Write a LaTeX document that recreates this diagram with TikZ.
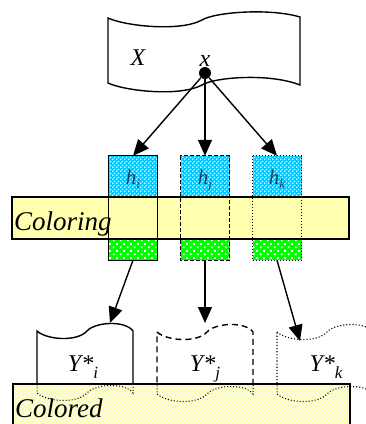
\documentclass[tikz,border=0pt]{standalone}
\usepackage{fontspec}
\setmainfont{Liberation Serif}
\usetikzlibrary{patterns,arrows.meta}
\definecolor{hblue}{RGB}{0,200,255}
\definecolor{bandyel}{RGB}{255,255,160}
\definecolor{hgreen}{RGB}{0,255,0}
\definecolor{hlab}{RGB}{40,60,80}
\pgfdeclarepatternformonly{wchk}{\pgfqpoint{0pt}{0pt}}{\pgfqpoint{4pt}{4pt}}{\pgfqpoint{4pt}{4pt}}{%
  \pgfpathrectangle{\pgfqpoint{0.3pt}{0.3pt}}{\pgfqpoint{1.4pt}{1.4pt}}%
  \pgfpathrectangle{\pgfqpoint{2.3pt}{2.3pt}}{\pgfqpoint{1.4pt}{1.4pt}}%
  \pgfusepath{fill}}
\pgfdeclarepatternformonly{gdots}{\pgfqpoint{0pt}{0pt}}{\pgfqpoint{7pt}{7pt}}{\pgfqpoint{7pt}{7pt}}{%
  \pgfpathrectangle{\pgfqpoint{1pt}{1pt}}{\pgfqpoint{2pt}{2pt}}%
  \pgfpathrectangle{\pgfqpoint{4.5pt}{4.5pt}}{\pgfqpoint{2pt}{2pt}}%
  \pgfusepath{fill}}
\begin{document}
\begin{tikzpicture}[x=1pt,y=-1pt,
  docline/.style={line width=1.4pt},
  arr/.style={line width=1.4pt,-{Triangle[length=16pt,width=14pt]}},
  hbox/.style={inner sep=0pt,minimum width=49pt,minimum height=41pt,fill=hblue,postaction={pattern=wchk,pattern color=white}},
  gbox/.style={inner sep=0pt,minimum width=49pt,minimum height=21pt,fill=hgreen,postaction={pattern=gdots,pattern color=white}},
  band/.style={inner sep=0pt,fill=bandyel,postaction={pattern=wchk,pattern color=white}},
  bandedge/.style={line width=2pt},
  bigtxt/.style={font=\fontsize{27}{30}\selectfont\itshape,inner sep=0pt},
  lab/.style={font=\fontsize{24}{26}\selectfont\itshape,inner sep=0pt},
  hlabel/.style={font=\fontsize{21}{22}\selectfont\itshape,text=hlab,inner sep=0pt},
  ydoc/.pic={\draw[pic actions] (0,0) .. controls (10,9) and (40,11) .. (50,0)
      .. controls (58,-9) and (88,-11) .. (96,0) -- (96,62)
      .. controls (88,51) and (58,53) .. (50,62)
      .. controls (40,73) and (10,71) .. (0,62) -- cycle;}
]
\useasboundingbox (0,0) rectangle (366,424);
\clip (0,0) rectangle (366,424);

% X document
\draw[docline] (108,18) .. controls (125,26) and (180,32) .. (202,20)
  .. controls (215,12) and (270,8) .. (300,17) -- (300,85)
  .. controls (270,73) and (215,77) .. (202,85)
  .. controls (180,97) and (125,91) .. (108,83) -- cycle;
\node[lab,anchor=base] (Xl) at (138,65) {X};
\node[lab,anchor=base] (xl) at (205,66) {x};
\node[circle,fill=black,inner sep=0pt,minimum size=12pt] (dot) at (205,73) {};

% hash boxes
\node[hbox] (hi) at (133,176.5) {};
\node[hbox] (hj) at (205,176.5) {};
\node[hbox] (hk) at (277,176.5) {};
\node[hlabel,anchor=base] at (133,184) {h\raisebox{-4pt}{\fontsize{13}{13}\selectfont i}};
\node[hlabel,anchor=base] at (205,184) {h\raisebox{-4pt}{\fontsize{13}{13}\selectfont j}};
\node[hlabel,anchor=base] at (277,184) {h\raisebox{-4pt}{\fontsize{13}{13}\selectfont k}};
\node[gbox] (gi) at (133,249.5) {};
\node[gbox] (gj) at (205,249.5) {};
\node[gbox] (gk) at (277,249.5) {};

% Coloring band
\node[band,minimum width=337pt,minimum height=42pt] (coloring) at (180.5,218) {};
\draw[bandedge] (coloring.north west) rectangle (coloring.south east);
\node[bigtxt,anchor=base west] (coltxt) at (14,230) {Coloring};

% column outlines
\draw[line width=1pt] (hi.north west) rectangle (gi.south east);
\draw[line width=1pt,dashed,dash pattern=on 4pt off 2pt] (hj.north west) rectangle (gj.south east);
\draw[line width=1pt,dotted] (hk.north west) rectangle (gk.south east);

% arrows from x
\draw[arr] (dot) -- (hi.north);
\draw[arr] (dot) -- (hj.north);
\draw[arr] (dot) -- (hk.north);

% result documents
\coordinate (yi) at (110,323);
\coordinate (yj) at (205,323);
\coordinate (yk) at (300,341);
\pic[docline] at (37,331) {ydoc};
\pic[docline,dashed,dash pattern=on 6pt off 4pt] at (157,332) {ydoc};
\pic[line width=1.1pt,dotted] at (277,332) {ydoc};

\draw[arr] (gi.south) -- (yi);
\draw[arr] (gj.south) -- (yj);
\draw[arr] (gk.south) -- (yk);

\node[lab,anchor=base] at (83,371) {Y*\raisebox{-7pt}{\fontsize{17}{17}\selectfont i}};
\node[lab,anchor=base] at (205,371) {Y*\raisebox{-7pt}{\fontsize{17}{17}\selectfont j}};
\node[lab,anchor=base] at (326,371) {Y*\raisebox{-7pt}{\fontsize{17}{17}\selectfont k}};

% Colored band
\node[band,minimum width=337pt,minimum height=60pt] (colored) at (181.5,414) {};
\begin{scope}
  \clip (colored.north west) rectangle (colored.south east);
  \pic[line width=1pt,dotted] at (37,331) {ydoc};
  \pic[line width=1pt,dotted] at (157,332) {ydoc};
  \pic[line width=1pt,dotted] at (277,332) {ydoc};
\end{scope}
\draw[bandedge] (colored.north west) rectangle (colored.south east);
\node[bigtxt,anchor=base west] (coltxt2) at (15,417) {Colored};
\end{tikzpicture}
\end{document}
